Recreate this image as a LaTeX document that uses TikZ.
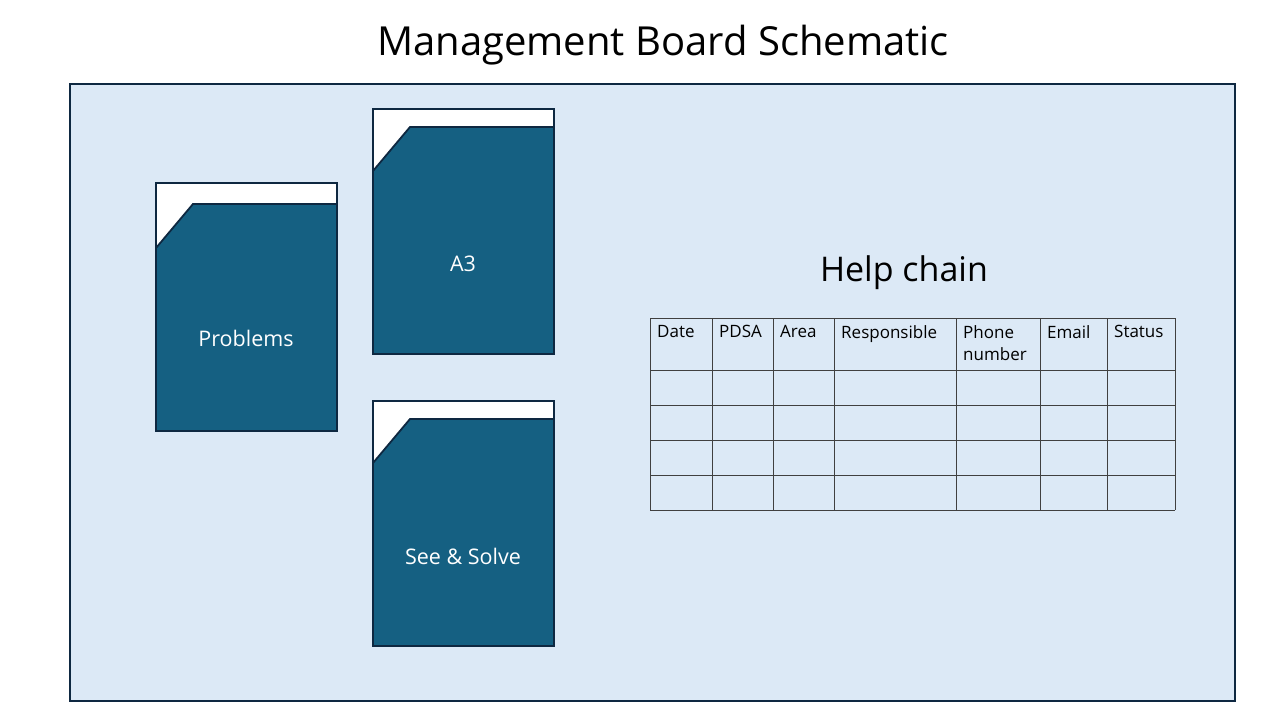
\documentclass[tikz,border=0pt]{standalone}
\usepackage{fontspec}
\setmainfont{Open Sans}
\definecolor{boardblue}{HTML}{DCE9F6}
\definecolor{cardblue}{HTML}{156082}
\definecolor{edgeblue}{HTML}{0E2841}
\tikzset{
  cardtext/.style={text=white, font=\fontsize{21.5}{24}\selectfont},
  headtext/.style={anchor=north west, align=left, inner sep=0, font=\fontsize{17}{22.5}\selectfont},
}

\begin{document}
\begin{tikzpicture} [x=1pt, y=-1pt]
\useasboundingbox[fill=white] (0,0) rectangle (1280,720);
\node[font=\fontsize{40}{46}\selectfont] (title) at (663,45) {Management Board Schematic};
\draw[edgeblue, fill=boardblue, line width=1.6pt] (70,84) rectangle (1235,701);
% cards
\foreach \x/\y/\h/\d/\nm/\txt in {156/183/248/21/prob/Problems, 373/109/245/18/athree/A3, 373/401/245/18/solve/See \& Solve} {
 \draw[edgeblue, fill=white, line width=1.8pt] (\x,\y) rectangle ++(181,\h);
 \draw[edgeblue, fill=cardblue, line width=1.8pt] (\x,\y+\h) -- (\x,\y+\d+44) -- (\x+37,\y+\d) -- (\x+181,\y+\d) -- (\x+181,\y+\h) -- cycle;
 \node[cardtext] (\nm) at (\x+90,\y+155) {\txt};
}
% help chain
\node[font=\fontsize{34}{40}\selectfont] (help) at (904,273) {Help chain};
\foreach \x in {650,712,773,834,956,1040,1107,1175}
 \draw[black!75, line width=1pt] (\x,318) -- (\x,510);
\foreach \y in {318,370,405,440,475,510}
 \draw[black!75, line width=1pt] (650,\y) -- (1175,\y);
\foreach \x/\nm/\txt in {650/date/Date, 712/pdsa/PDSA, 773/area/Area, 834/resp/Responsible, 956/phone/Phone\\number, 1040/email/Email, 1107/status/Status}
 \node[headtext] (\nm) at (\x+7,325) {\txt};
\end{tikzpicture}
\end{document}
